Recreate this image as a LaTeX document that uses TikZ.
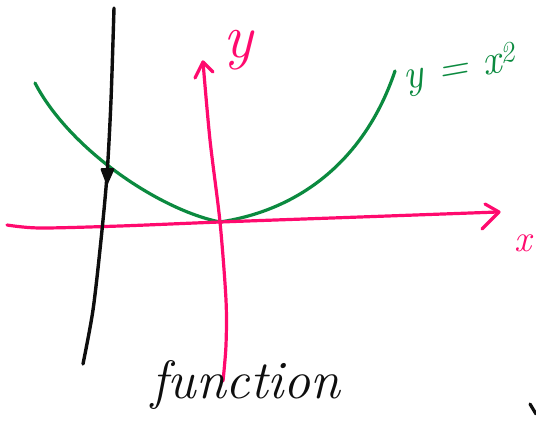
\documentclass[tikz,border=0pt]{standalone}
\usetikzlibrary{calc}
\definecolor{ink}{HTML}{0E0E0E}
\definecolor{wpink}{HTML}{FF0A6E}
\definecolor{wgreen}{HTML}{0B8A3F}
\tikzset{el/.style={line cap=round, line join=round},
  pen/.style={el, line width=3.2pt},
  lbl/.style={inner sep=0pt, font=\itshape}}

\begin{document}
\begin{tikzpicture}[el, x=1pt, y=-1pt]
  \useasboundingbox (0,0) rectangle (536,442);
  % the curve y = x^2
  \draw[pen, wgreen] (35,83) .. controls (70,150) and (160,210) .. (220,222)
    .. controls (300,210) and (365,160) .. (395,71);
  % axes
  \draw[pen, wpink] plot[smooth] coordinates {(7,225) (40,228) (120,226) (220,222) (360,217) (498,212)};
  \draw[pen, wpink] (485,204) -- (499,212) -- (482,229);
  \draw[pen, wpink] plot[smooth] coordinates {(203,62) (210,140) (220,222) (226,300) (226,345) (223,381)};
  \draw[pen, wpink] (195,78) -- (203,62) -- (213,72);
  % vertical line test
  \draw[pen, ink, line width=3.4pt] plot[smooth] coordinates {(114,8) (111,100) (107,175) (101,240) (93,310) (83,364)};
  \fill[ink, rounded corners=2pt] (100,168) -- (115,168) -- (107,186) -- cycle;
  \draw[pen, ink] (530,404) -- (536,414);
  % labels
  \node[lbl, wpink, font=\fontsize{62}{62}\selectfont\itshape] (ylab) at (238,50) {y};
  \node[lbl, wpink, font=\fontsize{38}{38}\selectfont\itshape] (xlab) at (523,243) {x};
  \node[lbl, wgreen, rotate=10, font=\fontsize{42}{42}\selectfont\itshape] (eq) at (460,70) {y = x\textsuperscript{2}};
  \node[lbl, ink, font=\fontsize{54}{54}\selectfont\itshape] (fn) at (246,385) {function};
\end{tikzpicture}
\end{document}
